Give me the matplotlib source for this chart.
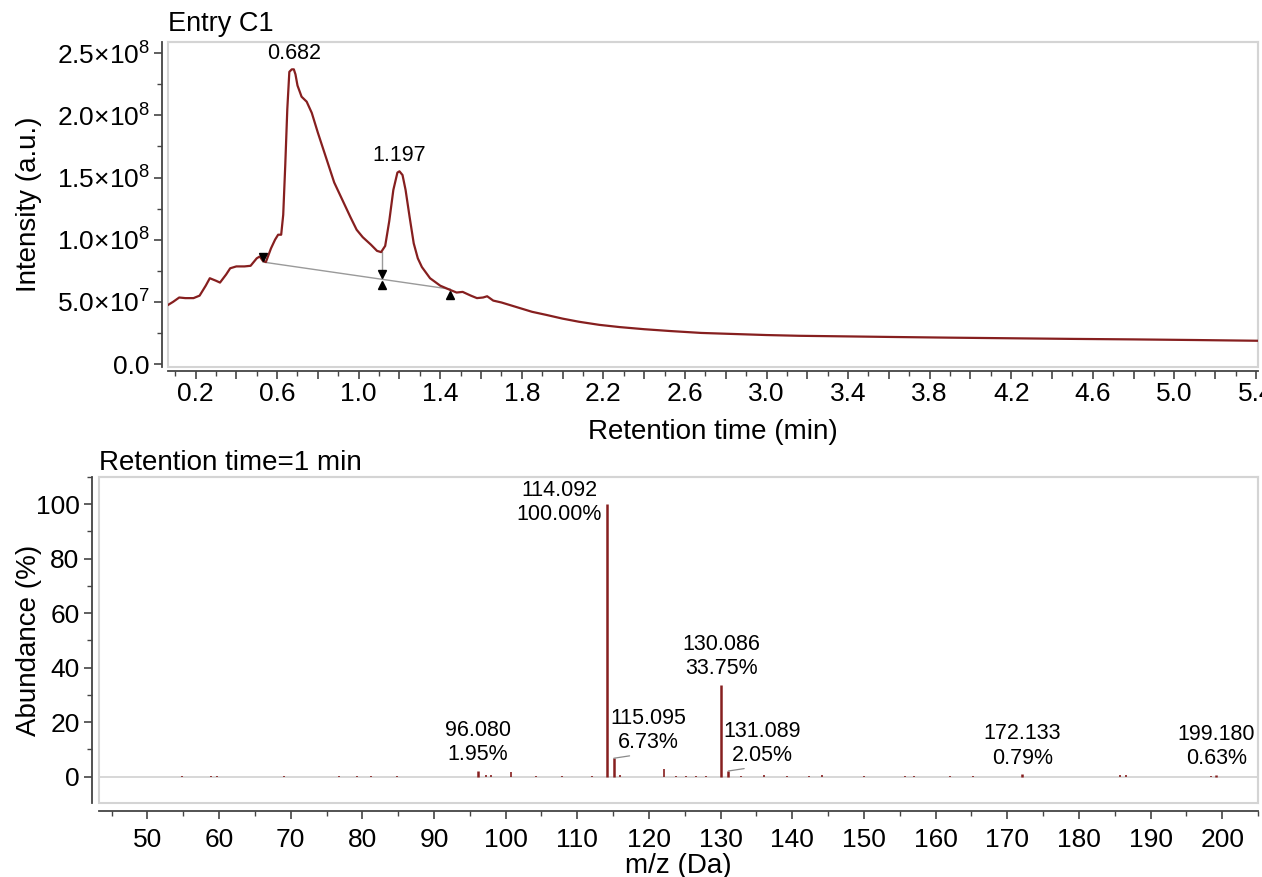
import numpy as np
import matplotlib
matplotlib.use('Agg')
from matplotlib import pyplot as plt
from matplotlib.patches import Rectangle
from matplotlib.ticker import FixedLocator, MultipleLocator, FuncFormatter
from matplotlib.transforms import offset_copy

plt.rcParams['font.family'] = ['Liberation Sans', 'DejaVu Sans']
plt.rcParams['mathtext.fontset'] = 'custom'
plt.rcParams['mathtext.rm'] = 'Liberation Sans'
plt.rcParams['mathtext.default'] = 'regular'

# chromatogram (retention time in min, intensity in a.u.)
rt = [0.065, 0.09, 0.12, 0.15, 0.19, 0.22, 0.25, 0.27, 0.30, 0.32, 0.35, 0.37, 0.40, 0.44,
      0.47, 0.50, 0.515, 0.53, 0.545, 0.57, 0.59, 0.605, 0.62, 0.63, 0.64, 0.65, 0.66,
      0.672, 0.682, 0.69, 0.70, 0.72, 0.745, 0.77, 0.80, 0.84, 0.88, 0.92, 0.96, 0.99,
      1.02, 1.06, 1.09, 1.11, 1.13, 1.15, 1.17, 1.19, 1.20, 1.215, 1.23, 1.25, 1.27,
      1.29, 1.31, 1.35, 1.40, 1.45, 1.48, 1.51, 1.55, 1.58, 1.61, 1.63, 1.66, 1.70,
      1.75, 1.80, 1.85, 1.92, 2.00, 2.08, 2.18, 2.28, 2.40, 2.53, 2.68, 2.83, 3.00,
      3.16, 3.40, 3.64, 3.90, 4.20, 4.50, 4.80, 5.10, 5.41]
intensity = [4.75, 5.0, 5.35, 5.3, 5.3, 5.5, 6.3, 6.9, 6.7, 6.55, 7.2, 7.7, 7.85, 7.85,
             7.9, 8.5, 8.65, 8.3, 8.2, 9.3, 10.0, 10.4, 10.4, 12.0, 16.0, 20.5, 23.5,
             23.7, 23.7, 23.3, 22.4, 21.5, 21.1, 20.2, 18.6, 16.6, 14.6, 13.2, 11.8, 10.8,
             10.2, 9.6, 9.1, 9.0, 9.5, 11.5, 14.0, 15.4, 15.5, 15.2, 14.0, 11.8, 9.7,
             8.5, 7.8, 6.9, 6.3, 5.95, 5.75, 5.8, 5.5, 5.3, 5.35, 5.45, 5.1, 4.95,
             4.7, 4.45, 4.2, 3.95, 3.65, 3.4, 3.15, 2.97, 2.8, 2.65, 2.5, 2.42, 2.33,
             2.27, 2.22, 2.17, 2.12, 2.07, 2.02, 1.98, 1.93, 1.87]
intensity = np.array(intensity) * 1e7

peak_rt = [0.682, 1.197]
peak_int = [2.37e8, 1.548e8]

# integration baseline: start, split, end
base_rt = [0.531, 1.113, 1.449]
base_int = [8.2e7, 6.82e7, 6.02e7]
split_top = 8.98e7

# mass spectrum at 1 min
mz_lab = [96.080, 114.092, 115.095, 130.086, 131.089, 172.133, 199.180]
ab_lab = [1.95, 100.00, 6.73, 33.75, 2.05, 0.79, 0.63]
mz_small = [54.9, 58.9, 59.7, 69.1, 76.8, 79.3, 81.2, 84.9, 97.3, 98.0, 100.8, 104.3,
            107.9, 112.0, 116.0, 122.1, 123.8, 125.2, 126.6, 128.0, 132.9, 136.0, 139.2,
            142.4, 144.2, 150.0, 155.7, 157.0, 162.0, 165.2, 185.7, 186.6, 198.5]
ab_small = [0.15, 0.2, 0.15, 0.2, 0.15, 0.2, 0.25, 0.2, 0.7, 0.6, 1.6, 0.2,
            0.3, 0.3, 0.4, 2.7, 0.3, 0.3, 0.3, 0.3, 0.3, 0.6, 0.2,
            0.2, 0.4, 0.3, 0.3, 0.3, 0.2, 0.2, 0.4, 0.4, 0.3]

red = '#861f1f'
frame = '#d4d4d4'
axc = '#444444'

W, H = 1262, 877
fig = plt.figure(figsize=(W / 100, H / 100), dpi=100)
ax1 = fig.add_axes([168 / W, 1 - 367 / H, 1090 / W, 325 / H])
ax2 = fig.add_axes([99 / W, 1 - 803 / H, 1159 / W, 326 / H])


def style(ax, off_left, off_bottom, xpad):
    for s in ['top', 'right']:
        ax.spines[s].set_color(frame)
        ax.spines[s].set_linewidth(1.5)
    ax.spines['left'].set_position(('outward', off_left))
    ax.spines['bottom'].set_position(('outward', off_bottom))
    for s in ['left', 'bottom']:
        ax.spines[s].set_color(axc)
        ax.spines[s].set_linewidth(1.3)
    ax.add_patch(Rectangle((0, 0), 1, 1, transform=ax.transAxes, fill=False,
                           edgecolor=frame, lw=1.5, clip_on=False, zorder=0))
    ax.tick_params(which='major', direction='out', length=6, width=1.2, color=axc,
                   labelsize=19, pad=3)
    ax.tick_params(which='minor', direction='out', length=3.5, width=1.0, color=axc)
    ax.tick_params(axis='x', which='major', pad=xpad)


# ---- chromatogram ----
style(ax1, 4, 3, 2)
ax1.plot(rt, intensity, color=red, lw=1.6, zorder=3)
ax1.plot(base_rt[::2], base_int[::2], color='#9a9a9a', lw=1.0, zorder=2)
ax1.plot([base_rt[1], base_rt[1]], [base_int[1], split_top], color='#9a9a9a', lw=1.0, zorder=2)
up = offset_copy(ax1.transData, fig=fig, x=0, y=4, units='points')
dn = offset_copy(ax1.transData, fig=fig, x=0, y=-4, units='points')
ax1.plot(base_rt[:2], base_int[:2], linestyle='none', marker='v', ms=6, color='black',
         transform=up, zorder=4)
ax1.plot(base_rt[1:], base_int[1:], linestyle='none', marker='^', ms=6, color='black',
         transform=dn, zorder=4)
for x, y in zip(peak_rt, peak_int):
    ax1.annotate(f'{x:.3f}', (x, y), xytext=(0, 11.5), textcoords='offset points',
                 ha='center', va='center', fontsize=15.5)

ax1.set_xlim(0.065, 5.41)
ax1.set_ylim(-2.4e6, 2.59e8)
xmaj = np.round(np.arange(0.2, 5.41, 0.2), 1)
ax1.xaxis.set_major_locator(FixedLocator(xmaj))
ax1.xaxis.set_major_formatter(FuncFormatter(
    lambda v, p: f'{v:.1f}' if round((v - 0.2) / 0.4, 3) % 1 == 0 else ''))
ax1.xaxis.set_minor_locator(MultipleLocator(0.1))
ax1.yaxis.set_major_locator(MultipleLocator(5e7))
ax1.yaxis.set_minor_locator(MultipleLocator(2.5e7))


def sci(v, p):
    if v == 0:
        return '0.0'
    e = int(np.floor(np.log10(abs(v))))
    return f'{v / 10 ** e:.1f}×10$^{{{e}}}$'


ax1.yaxis.set_major_formatter(FuncFormatter(sci))
ax1.set_xlabel('Retention time (min)', fontsize=20, labelpad=9)
ax1.set_ylabel('Intensity (a.u.)', fontsize=20)
ax1.yaxis.set_label_coords(-0.1156, 0.5)
ax1.set_title('Entry C1', loc='left', fontsize=19.5, pad=8)

# ---- mass spectrum ----
style(ax2, 5, 6, 6)
ax2.axhline(0, color=frame, lw=1.3, zorder=1)
ax2.vlines(mz_small, 0, ab_small, color=red, lw=1.2, zorder=2)
ax2.vlines(mz_lab, 0, ab_lab, color=red, lw=1.8, zorder=3)
for m, a in zip(mz_lab, ab_lab):
    txt = f'{m:.3f}\n{a:.2f}%'
    if a >= 99:
        ax2.annotate(txt, (m, a), xytext=(-3.5, 1.5), textcoords='offset points',
                     ha='right', va='center', fontsize=15.5, multialignment='center')
    elif m in (115.095, 131.089):
        ax2.annotate(txt, (m, a), xytext=(24.5, 20), textcoords='offset points',
                     ha='center', va='center', fontsize=15.5,
                     arrowprops=dict(arrowstyle='-', color='#8a8a8a', lw=0.9,
                                     relpos=(0.5, 0), shrinkA=0, shrinkB=0))
    else:
        ax2.annotate(txt, (m, a), xytext=(0, 20.5), textcoords='offset points',
                     ha='center', va='center', fontsize=15.5)

ax2.set_xlim(43.25, 205.0)
ax2.set_ylim(-9.7, 110)
ax2.xaxis.set_major_locator(MultipleLocator(10))
ax2.xaxis.set_minor_locator(MultipleLocator(5))
ax2.yaxis.set_major_locator(FixedLocator([0, 20, 40, 60, 80, 100]))
ax2.yaxis.set_minor_locator(FixedLocator([-10, 10, 30, 50, 70, 90, 110]))
ax2.set_xlabel('m/z (Da)', fontsize=20, labelpad=1)
ax2.set_ylabel('Abundance (%)', fontsize=20)
ax2.yaxis.set_label_coords(-0.0492, 0.5)
ax2.set_title('Retention time=1 min', loc='left', fontsize=20, pad=5)

fig.savefig('out.png', dpi=100)
